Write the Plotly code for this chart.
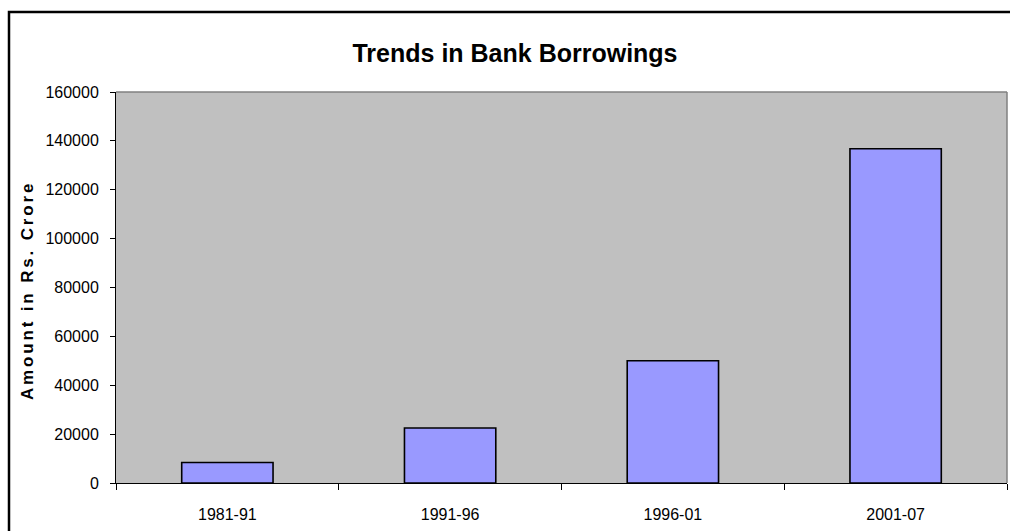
import plotly.graph_objects as go

categories = ["1981-91", "1991-96", "1996-01", "2001-07"]
values = [8400, 22500, 50000, 136800]
y_ticks = [0, 20000, 40000, 60000, 80000, 100000, 120000, 140000, 160000]

FONT = "Liberation Sans, Arial, sans-serif"
W, H = 1010, 531
L, R, T, B = 116, 3, 92, 48
pw, ph = W - L - R, H - T - B

fig = go.Figure()
fig.add_trace(go.Bar(
    x=categories, y=values,
    marker=dict(color="#9999FF", line=dict(color="#000000", width=1.6)),
    width=0.41,
))

hs = "\u200a\u200a"
def spaced(word):
    return hs.join(list(word))
ylabel = (hs + "\u00a0" + hs).join(spaced(w) for w in ["Amount", "in", "Rs.", "Crore"])

fig.update_layout(
    width=W, height=H,
    margin=dict(l=L, r=R, t=T, b=B, pad=0),
    paper_bgcolor="white",
    plot_bgcolor="#C0C0C0",
    showlegend=False,
    title=dict(text="<b>Trends in Bank Borrowings</b>", x=515 / W, xanchor="center",
               y=1 - 53 / H, yanchor="middle",
               font=dict(family=FONT, size=25, color="black")),
    xaxis=dict(
        type="category", showgrid=False, showline=True, linecolor="black", linewidth=1,
        ticks="outside", ticklen=6, tickcolor="black", tickwidth=1, tickson="boundaries",
        tickfont=dict(family=FONT, size=16, color="black"), ticklabelstandoff=17,
        range=[-0.5, 3.5],
    ),
    yaxis=dict(
        range=[0, 160000], tickvals=y_ticks, ticktext=[str(v) for v in y_ticks],
        showgrid=False, showline=True, linecolor="black", linewidth=1,
        ticks="outside", ticklen=5, tickcolor="black", tickwidth=1,
        tickfont=dict(family=FONT, size=16, color="black"), ticklabelstandoff=8,
        zeroline=False,
    ),
    annotations=[dict(
        text="<b>" + ylabel + "</b>", textangle=-90, xref="paper", yref="paper",
        x=(27 - L) / pw, y=(H - B - 292) / ph, xanchor="center", yanchor="middle",
        showarrow=False, font=dict(family=FONT, size=17, color="black"),
    )],
    shapes=[
        dict(type="line", xref="paper", yref="paper", x0=0, x1=1, y0=1, y1=1,
             line=dict(color="#808080", width=1.5), layer="above"),
        dict(type="line", xref="paper", yref="paper", x0=1, x1=1, y0=0, y1=1,
             line=dict(color="#808080", width=1.5), layer="above"),
        dict(type="rect", xref="paper", yref="paper",
             x0=(9 - L) / pw, x1=(1020 - L) / pw,
             y0=(H - B - 540) / ph, y1=(H - B - 12) / ph,
             line=dict(color="black", width=2.5), fillcolor="rgba(0,0,0,0)", layer="above"),
    ],
)

fig.write_html("out.html", config={"displayModeBar": False},
               post_script="document.body.style.margin='0';document.body.style.overflow='hidden';")
